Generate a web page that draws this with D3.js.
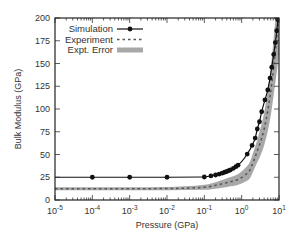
<!DOCTYPE html>
<html>
<head>
<meta charset="utf-8">
<script src="https://cdn.jsdelivr.net/npm/d3@7"></script>
<style>
  body { margin: 0; background: #fff; }
  text { font-family: "Liberation Sans", Arial, sans-serif; fill: #333; }
</style>
</head>
<body>
<div id="chart"></div>
<script>
// simulation points (pressure GPa, bulk modulus GPa)
var simP = [1e-4, 1e-3, 1e-2, 0.1, 0.15, 0.2, 0.25, 0.3, 0.35, 0.4, 0.45, 0.5, 0.6, 0.7, 0.8,
            1.41, 1.9, 2.3, 2.62, 3.0, 3.44, 4.2, 5.0, 5.75, 6.4, 7.2, 8.0, 8.7, 9.4];
var simK = [25, 25, 25, 25.3, 26.5, 27.5, 28.5, 29.5, 30.5, 31.3, 32.2, 33, 34.8, 36.6, 38.3,
            50.5, 60, 68, 78, 86, 97, 110, 121, 134, 146, 160, 173, 186, 198];
// simulation line runs from the left edge too
var simLineP = [1e-5].concat(simP);
var simLineK = [25].concat(simK);

// experiment curve and its error
var expP = [1e-5, 1e-3, 0.01, 0.1, 0.25, 0.44, 0.81, 1.23, 1.67, 2.05, 2.53, 2.97, 4, 5.2, 6.5, 7.8, 9, 10];
var expK = [12.4, 12.4, 12.6, 14, 17, 19.5, 22.7, 27.5, 33, 42, 52, 60, 78, 102, 130, 160, 185, 205];
var expErr = [1.6, 1.6, 1.8, 2.8, 4, 5, 6, 7.5, 9, 10.5, 12, 14, 18, 23, 28, 34, 40, 45];

var yTicks = [0, 25, 50, 75, 100, 125, 150, 175, 200];
var xTicks = [-5, -4, -3, -2, -1, 0, 1];

var margin = { top: 18, right: 21, bottom: 46, left: 55 },
    width = 300 - margin.left - margin.right,
    height = 246 - margin.top - margin.bottom;

var svg = d3.select("#chart").append("svg")
    .attr("width", 300).attr("height", 246)
  .append("g")
    .attr("transform", `translate(${margin.left},${margin.top})`);

var x = d3.scaleLog().domain([1e-5, 10]).range([0, width]);
var y = d3.scaleLinear().domain([0, 200]).range([height, 0]);

svg.append("clipPath").attr("id", "clip")
  .append("rect").attr("width", width).attr("height", height);

var plot = svg.append("g").attr("clip-path", "url(#clip)");

// error band
var expData = expP.map((p, i) => ({ p: p, k: expK[i], e: expErr[i] }));
plot.append("path")
  .datum(expData)
  .attr("fill", "#a8a8a8")
  .attr("d", d3.area()
    .x(d => x(d.p))
    .y0(d => y(d.k - d.e))
    .y1(d => y(d.k + d.e))
    .curve(d3.curveMonotoneX));

// experiment dashed line
plot.append("path")
  .datum(expData)
  .attr("fill", "none")
  .attr("stroke", "#555")
  .attr("stroke-width", 1.5)
  .attr("stroke-dasharray", "2.5,3")
  .attr("d", d3.line().x(d => x(d.p)).y(d => y(d.k)).curve(d3.curveMonotoneX));

// simulation line + markers
var simLine = simLineP.map((p, i) => ({ p: p, k: simLineK[i] }));
plot.append("path")
  .datum(simLine)
  .attr("fill", "none")
  .attr("stroke", "#111")
  .attr("stroke-width", 1.2)
  .attr("d", d3.line().x(d => x(d.p)).y(d => y(d.k)).curve(d3.curveMonotoneX));

plot.selectAll("circle.sim")
  .data(simP.map((p, i) => ({ p: p, k: simK[i] })))
  .join("circle")
    .attr("class", "sim")
    .attr("cx", d => x(d.p))
    .attr("cy", d => y(d.k))
    .attr("r", 2.4)
    .attr("fill", "#111");

// ticks (inward, mirrored)
var tickCol = "#333";
var majorX = xTicks.map(e => Math.pow(10, e));
var minorX = [];
for (var e = -5; e < 1; e++) for (var m = 2; m <= 9; m++) minorX.push(m * Math.pow(10, e));

var ticks = svg.append("g").attr("stroke", tickCol).attr("stroke-width", 0.8);
majorX.forEach(function (v) {
  ticks.append("line").attr("x1", x(v)).attr("x2", x(v)).attr("y1", height).attr("y2", height - 5);
  ticks.append("line").attr("x1", x(v)).attr("x2", x(v)).attr("y1", 0).attr("y2", 5);
});
minorX.forEach(function (v) {
  ticks.append("line").attr("x1", x(v)).attr("x2", x(v)).attr("y1", height).attr("y2", height - 2.5);
  ticks.append("line").attr("x1", x(v)).attr("x2", x(v)).attr("y1", 0).attr("y2", 2.5);
});
yTicks.forEach(function (v) {
  ticks.append("line").attr("x1", 0).attr("x2", 5).attr("y1", y(v)).attr("y2", y(v));
  ticks.append("line").attr("x1", width).attr("x2", width - 5).attr("y1", y(v)).attr("y2", y(v));
});

// frame
svg.append("rect")
  .attr("width", width).attr("height", height)
  .attr("fill", "none").attr("stroke", "#222").attr("stroke-width", 1.2);

// y tick labels
svg.selectAll("text.yl")
  .data(yTicks)
  .join("text")
    .attr("class", "yl")
    .attr("x", -5)
    .attr("y", d => y(d))
    .attr("dy", "0.35em")
    .attr("text-anchor", "end")
    .attr("font-size", 9)
    .text(d => d);

// x tick labels with superscripts
var xl = svg.selectAll("text.xl")
  .data(xTicks)
  .join("text")
    .attr("class", "xl")
    .attr("x", d => x(Math.pow(10, d)))
    .attr("y", height + 14)
    .attr("text-anchor", "middle")
    .attr("font-size", 9);
xl.append("tspan").text("10");
xl.append("tspan").attr("dy", -4).attr("font-size", 6.5).text(d => d);

// axis titles
svg.append("text")
  .attr("x", width / 2).attr("y", height + 28)
  .attr("text-anchor", "middle").attr("font-size", 9)
  .text("Pressure (GPa)");
svg.append("text")
  .attr("transform", `translate(${-34},${height / 2}) rotate(-90)`)
  .attr("text-anchor", "middle").attr("font-size", 9)
  .text("Bulk Modulus (GPa)");

// legend
var lg = svg.append("g").attr("transform", "translate(58,11)");
var names = ["Simulation", "Experiment", "Expt. Error"];
names.forEach(function (n, i) {
  lg.append("text").attr("x", 0).attr("y", i * 10.5).attr("dy", "0.35em")
    .attr("text-anchor", "end").attr("font-size", 9.5).text(n);
});
lg.append("line").attr("x1", 4).attr("x2", 30).attr("y1", 0).attr("y2", 0)
  .attr("stroke", "#111").attr("stroke-width", 1.2);
lg.append("circle").attr("cx", 17).attr("cy", 0).attr("r", 2.4).attr("fill", "#111");
lg.append("line").attr("x1", 4).attr("x2", 30).attr("y1", 10.5).attr("y2", 10.5)
  .attr("stroke", "#555").attr("stroke-width", 1.5).attr("stroke-dasharray", "2.5,3");
lg.append("rect").attr("x", 4).attr("y", 21 - 2.5).attr("width", 26).attr("height", 5)
  .attr("fill", "#a8a8a8");
</script>
</body>
</html>
